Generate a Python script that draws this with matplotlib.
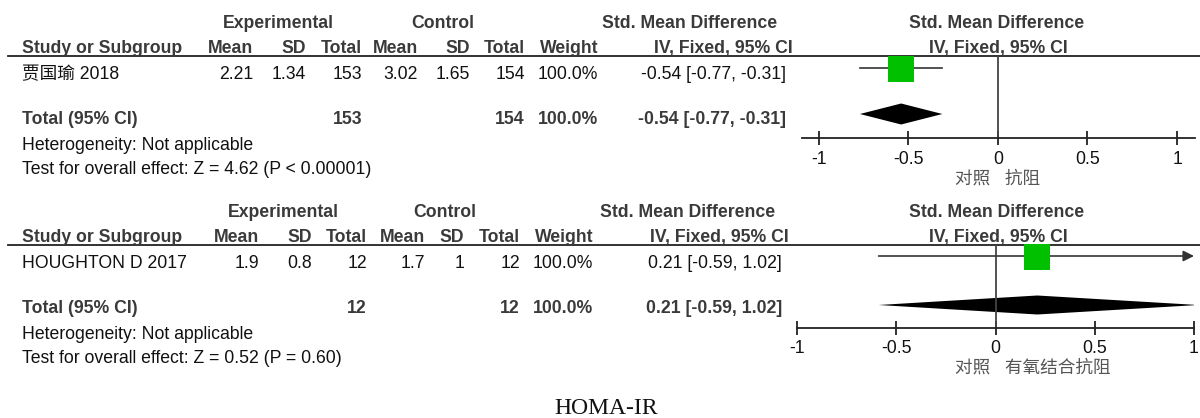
import matplotlib
matplotlib.use("Agg")
import matplotlib.pyplot as plt

plt.rcParams['font.family'] = ['Liberation Sans', 'Noto Sans CJK SC']

# study data, one entry per panel
studies = ['贾国瑜 2018', 'HOUGHTON D 2017']
exp_mean = [2.21, 1.9]
exp_sd = [1.34, 0.8]
exp_n = [153, 12]
ctl_mean = [3.02, 1.7]
ctl_sd = [1.65, 1]
ctl_n = [154, 12]
weights = ['100.0%', '100.0%']
smd = [-0.54, 0.21]
ci_lo = [-0.77, -0.59]
ci_hi = [-0.31, 1.02]
z_vals = ['4.62', '0.52']
p_vals = ['P < 0.00001', 'P = 0.60']
favours = [('对照', '抗阻'), ('对照', '有氧结合抗阻')]
tick_vals = [-1, -0.5, 0, 0.5, 1]
tick_labels = ['-1', '-0.5', '0', '0.5', '1']
title = 'HOMA-IR'

W, H = 1200, 418
fig = plt.figure(figsize=(W / 100, H / 100), dpi=100)
ax = fig.add_axes([0, 0, 1, 1])
ax.set_xlim(0, W)
ax.set_ylim(H, 0)
ax.axis('off')

HEAD = '#3a3a3a'
TXT = '#111111'
FS = 12.7

# per panel layout: vertical offset, column right edges, forest axis pixels
panels = [
    dict(dy=0, cols=[253, 306, 362, 418, 470, 525, 598, 786], hdr_ci=793,
         grp=[278, 443, 690], fx=(801.7, 1195), flim=(-1.095, 1.10), fy=(55.5, 138),
         row=68),
    dict(dy=189, cols=[259, 312, 367, 425, 464, 520, 593, 782], hdr_ci=789,
         grp=[283, 445, 688], fx=(797.3, 1194), flim=(-1.0, 1.0), fy=(244.5, 327.5),
         row=256),
]


def fmt(v):
    return ('%g' % v)


def put(x, y, s, ha='left', bold=False, color=TXT, **kw):
    # y is the baseline position in pixels
    ax.text(x, y, s, ha=ha, va='baseline', fontsize=FS,
            fontweight='bold' if bold else 'normal', color=color, **kw)


for i, p in enumerate(panels):
    dy = p['dy']
    c = p['cols']
    # group headers
    gy = 28 + dy
    put(p['grp'][0], gy, 'Experimental', ha='center', bold=True, color=HEAD)
    put(p['grp'][1], gy, 'Control', ha='center', bold=True, color=HEAD)
    put(p['grp'][2], gy, 'Std. Mean Difference', ha='center', bold=True, color=HEAD)
    put(997, gy, 'Std. Mean Difference', ha='center', bold=True, color=HEAD)

    # column headers, sitting on the rule
    hy = 53 + dy
    put(22, hy, 'Study or Subgroup', bold=True, color=HEAD)
    for x, lab in zip(c[:7], ['Mean', 'SD', 'Total', 'Mean', 'SD', 'Total', 'Weight']):
        put(x, hy, lab, ha='right', bold=True, color=HEAD)
    put(p['hdr_ci'], hy, 'IV, Fixed, 95% CI', ha='right', bold=True, color=HEAD)
    put(998, hy, 'IV, Fixed, 95% CI', ha='center', bold=True, color=HEAD)
    ax.plot([8, W], [p['fy'][0], p['fy'][0]], color='#222222', lw=1.3)

    # study row
    ry = 79 + dy
    put(22, ry, studies[i])
    vals = [fmt(exp_mean[i]), fmt(exp_sd[i]), str(exp_n[i]),
            fmt(ctl_mean[i]), fmt(ctl_sd[i]), str(ctl_n[i]), weights[i]]
    for x, v in zip(c[:7], vals):
        put(x, ry, v, ha='right')
    ci_txt = '%.2f [%.2f, %.2f]' % (smd[i], ci_lo[i], ci_hi[i])
    put(c[7], ry, ci_txt, ha='right')

    # total row
    ty = 124 + dy
    put(22, ty, 'Total (95% CI)', bold=True, color=HEAD)
    for x, v in [(c[2], str(exp_n[i])), (c[5], str(ctl_n[i])), (c[6], weights[i]),
                 (c[7], ci_txt)]:
        put(x, ty, v, ha='right', bold=True, color=HEAD)
    put(22, 150 + dy, 'Heterogeneity: Not applicable')
    put(22, 174 + dy, 'Test for overall effect: Z = %s (%s)' % (z_vals[i], p_vals[i]))

    # forest plot area
    x0, x1 = p['fx']
    y0, y1 = p['fy']
    fax = fig.add_axes([x0 / W, 1 - y1 / H, (x1 - x0) / W, (y1 - y0) / H])
    fax.set_xlim(*p['flim'])
    fax.set_ylim(y1, y0)
    fax.patch.set_alpha(0)
    for s in ['top', 'left', 'right']:
        fax.spines[s].set_visible(False)
    fax.spines['bottom'].set_color('#222222')
    fax.spines['bottom'].set_linewidth(1.3)
    fax.set_yticks([])
    fax.set_xticks(tick_vals)
    fax.set_xticklabels(tick_labels, fontsize=FS, color=TXT)
    fax.tick_params(axis='x', direction='inout', length=10, width=1.3,
                    color='#222222', pad=4)
    fax.axvline(0, color='#444444', lw=1.3)

    row = p['row']
    lo, hi = ci_lo[i], ci_hi[i]
    if hi > p['flim'][1]:
        fax.annotate('', xy=(p['flim'][1], row), xytext=(lo, row),
                     arrowprops=dict(arrowstyle='-|>', color='#333333', lw=1.2,
                                     mutation_scale=16, shrinkA=0, shrinkB=0))
    else:
        fax.plot([lo, hi], [row, row], color='#333333', lw=1.2)
    fax.plot([smd[i]], [row + 1], marker='s', markersize=19, color='#00c000',
             markeredgewidth=0, clip_on=False, zorder=5)

    dmy = 115 + dy - (1 if i == 0 else -1)
    dh = 10.5 if i == 0 else 9.5
    fax.fill([lo, smd[i], hi, smd[i]], [dmy, dmy - dh, dmy, dmy + dh],
             color='black', lw=0)

    # favours labels under the axis
    ax.text(955, 179 + dy, favours[i][0] + '   ' + favours[i][1], ha='left',
            va='center', fontsize=FS, color='#555555')

ax.text(606, 409, title, ha='center', va='center', fontsize=17,
        family='Liberation Serif', color='#111111')

fig.savefig('out.png', dpi=100)
